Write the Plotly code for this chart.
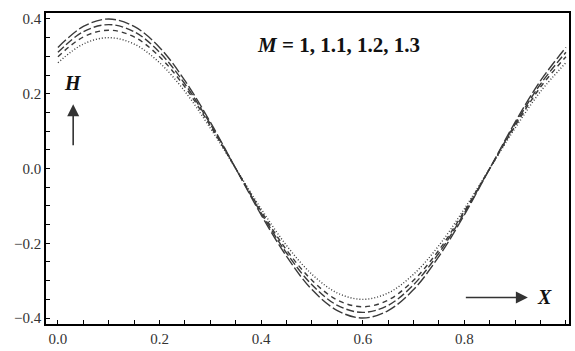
import plotly.graph_objects as go

# Axial coordinate X and the induced magnetic field H for four values of M
X = [0.00, 0.05, 0.10, 0.15, 0.20, 0.25, 0.30, 0.35, 0.40, 0.45, 0.50,
     0.55, 0.60, 0.65, 0.70, 0.75, 0.80, 0.85, 0.90, 0.95, 1.00]

H_m1 = [0.283, 0.333, 0.350, 0.333, 0.283, 0.206, 0.108, 0.000, -0.108, -0.206, -0.283,
        -0.333, -0.350, -0.333, -0.283, -0.206, -0.108, 0.000, 0.108, 0.206, 0.283]
H_m11 = [0.299, 0.352, 0.370, 0.352, 0.299, 0.218, 0.114, 0.000, -0.114, -0.218, -0.299,
         -0.352, -0.370, -0.352, -0.299, -0.218, -0.114, 0.000, 0.114, 0.218, 0.299]
H_m12 = [0.311, 0.366, 0.385, 0.366, 0.311, 0.226, 0.119, 0.000, -0.119, -0.226, -0.311,
         -0.366, -0.385, -0.366, -0.311, -0.226, -0.119, 0.000, 0.119, 0.226, 0.311]
H_m13 = [0.324, 0.380, 0.400, 0.380, 0.324, 0.235, 0.124, 0.000, -0.124, -0.235, -0.324,
         -0.380, -0.400, -0.380, -0.324, -0.235, -0.124, 0.000, 0.124, 0.235, 0.324]

series = [
    ("M = 1", H_m1, "1px,2px"),
    ("M = 1.1", H_m11, "5px,4px"),
    ("M = 1.2", H_m12, "8px,3px"),
    ("M = 1.3", H_m13, "11px,3px"),
]

# tick positions every 0.05, labelled every 0.2
x_ticks = [0.00, 0.05, 0.10, 0.15, 0.20, 0.25, 0.30, 0.35, 0.40, 0.45, 0.50,
           0.55, 0.60, 0.65, 0.70, 0.75, 0.80, 0.85, 0.90, 0.95, 1.00]
x_labels = ["0.0", "", "", "", "0.2", "", "", "", "0.4", "", "",
            "", "0.6", "", "", "", "0.8", "", "", "", "1.0"]
y_ticks = [-0.40, -0.35, -0.30, -0.25, -0.20, -0.15, -0.10, -0.05, 0.00,
           0.05, 0.10, 0.15, 0.20, 0.25, 0.30, 0.35, 0.40]
y_labels = ["\u22120.4", "", "", "", "\u22120.2", "", "", "", "0.0",
            "", "", "", "0.2", "", "", "", "0.4"]

fig = go.Figure()
for name, h, dash in series:
    fig.add_trace(go.Scatter(
        x=X, y=h, name=name, mode="lines",
        line=dict(color="#3a3a3a", width=1.4, dash=dash, shape="spline", smoothing=1.0),
        showlegend=False,
    ))

serif = "Liberation Serif"

fig.update_xaxes(range=[-0.0235, 1.006], tickmode="array",
                 tickvals=x_ticks, ticktext=x_labels,
                 showline=True, linecolor="black", linewidth=1.5, mirror=True,
                 ticks="inside", ticklen=4, tickwidth=1, tickcolor="black",
                 showgrid=False, zeroline=False,
                 tickfont=dict(family=serif, size=15, color="#333"))
fig.update_yaxes(range=[-0.416, 0.416], tickmode="array",
                 tickvals=y_ticks, ticktext=y_labels,
                 showline=True, linecolor="black", linewidth=1.5, mirror=True,
                 ticks="inside", ticklen=4, tickwidth=1, tickcolor="black",
                 showgrid=False, zeroline=False,
                 tickfont=dict(family=serif, size=15, color="#333"))

fig.add_annotation(x=0.553, y=0.33, xref="x", yref="y", showarrow=False,
                   text="<b><i>M</i> = 1, 1.1, 1.2, 1.3</b>",
                   font=dict(family=serif, size=21, color="#111"))
# H label with upward arrow
fig.add_annotation(x=0.03, y=0.228, xref="x", yref="y", showarrow=False,
                   text="<b><i>H</i></b>", font=dict(family=serif, size=20, color="#111"))
fig.add_annotation(x=0.03, y=0.172, ax=0.03, ay=0.058, xref="x", yref="y",
                   axref="x", ayref="y", showarrow=True, text="",
                   arrowhead=2, arrowsize=1.5, arrowwidth=1.6, arrowcolor="#333")
# X label with rightward arrow
fig.add_annotation(x=0.958, y=-0.345, xref="x", yref="y", showarrow=False,
                   text="<b><i>X</i></b>", font=dict(family=serif, size=20, color="#111"))
fig.add_annotation(x=0.925, y=-0.345, ax=0.80, ay=-0.345, xref="x", yref="y",
                   axref="x", ayref="y", showarrow=True, text="",
                   arrowhead=2, arrowsize=1.5, arrowwidth=1.6, arrowcolor="#333")

fig.update_layout(
    width=575, height=351,
    margin=dict(l=46, r=4, t=13, b=21),
    paper_bgcolor="white", plot_bgcolor="white",
)

fig.write_html("out.html")
